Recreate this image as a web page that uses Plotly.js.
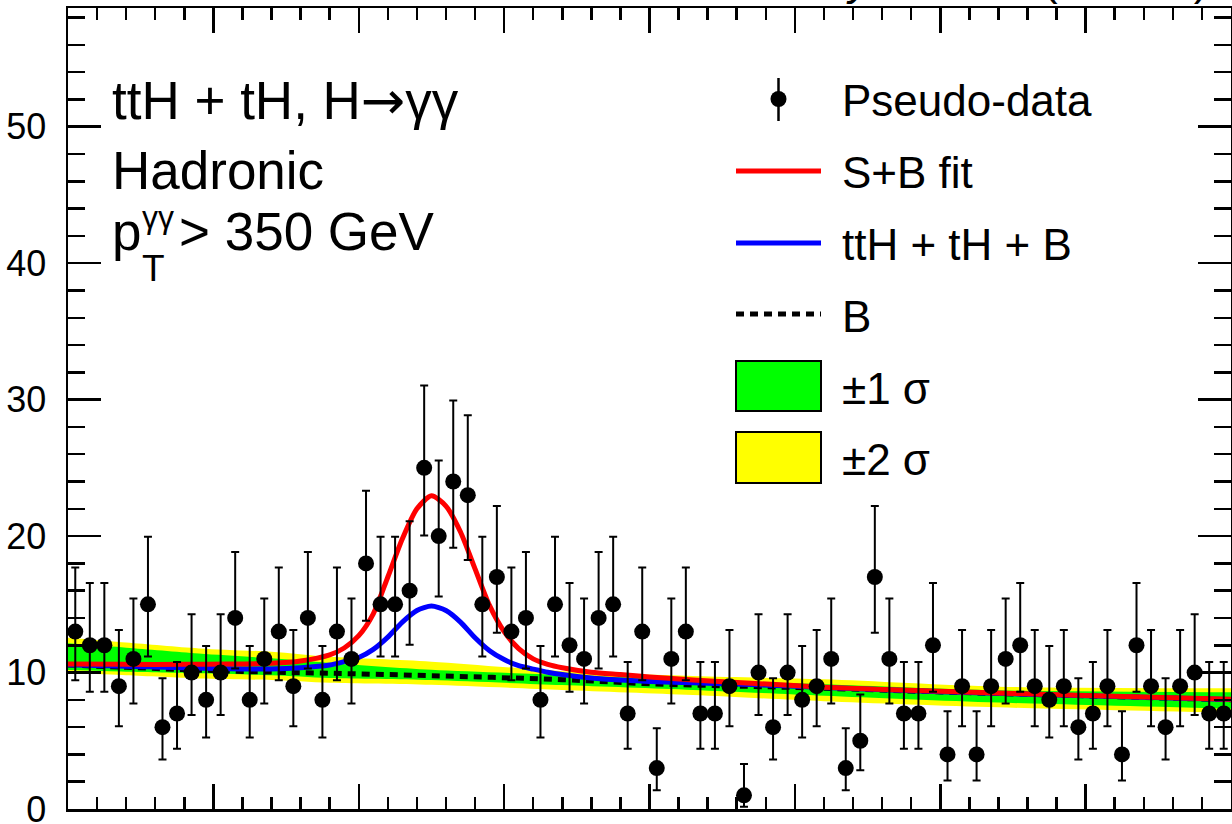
<!DOCTYPE html>
<html>
<head>
<meta charset="utf-8">
<script src="https://cdn.plot.ly/plotly-3.0.1.min.js"></script>
<style>
  html, body { margin: 0; padding: 0; background: #ffffff; }
  #chart { width: 1232px; height: 824px; }
</style>
</head>
<body>
<div id="chart"></div>
<script>
// ---------------- data ----------------
// diphoton mass bin centres (GeV), 1 GeV bins 100-180
const massBins = [100.5,101.5,102.5,103.5,104.5,105.5,106.5,107.5,108.5,109.5,
  110.5,111.5,112.5,113.5,114.5,115.5,116.5,117.5,118.5,119.5,
  120.5,121.5,122.5,123.5,124.5,125.5,126.5,127.5,128.5,129.5,
  130.5,131.5,132.5,133.5,134.5,135.5,136.5,137.5,138.5,139.5,
  140.5,141.5,142.5,143.5,144.5,145.5,146.5,147.5,148.5,149.5,
  150.5,151.5,152.5,153.5,154.5,155.5,156.5,157.5,158.5,159.5,
  160.5,161.5,162.5,163.5,164.5,165.5,166.5,167.5,168.5,169.5,
  170.5,171.5,172.5,173.5,174.5,175.5,176.5,177.5,178.5,179.5];
// pseudo-data event counts
const pseudoData = [13,12,12,9,11,15,6,7,10,8,10,14,8,11,13,9,14,8,13,11,
  18,15,15,16,25,20,24,23,15,17,13,14,8,15,12,11,14,15,7,13,
  3,11,13,7,7,9,1,10,6,10,8,9,11,3,5,17,11,7,7,12,
  4,9,4,9,11,12,9,8,9,6,7,9,4,12,9,6,9,10,7,7];
// Poisson (68%) interval ends, indexed by count
const poissonLow  = [0,0.173,0.708,1.367,2.086,2.840,3.620,4.419,5.232,6.057,6.891,7.734,8.585,9.441,10.30,11.17,12.04,12.92,13.80,14.68,15.57,16.45,17.35,18.24,19.14,20.04];
const poissonHigh = [1.841,3.300,4.638,5.918,7.163,8.382,9.584,10.77,11.95,13.11,14.27,15.42,16.56,17.70,18.83,19.96,21.08,22.20,23.32,24.43,25.54,26.65,27.75,28.85,29.94,31.04];

// fitted curves
const curveMass = [100,104,108,111,114,116,118,119,120,121,122,123,124,125,126,127,128,129,130,131,132,133,134,136,138,140,143,147,152,160,170,180];
const sbFit     = [10.62,10.6,10.6,10.62,10.68,10.85,11.3,11.8,12.7,14.3,17.0,19.8,22.0,22.95,22.2,20.3,17.6,14.9,13.0,11.75,11.0,10.6,10.35,10.02,9.85,9.68,9.45,9.22,8.93,8.62,8.32,8.05];
const tthFit    = [10.58,10.46,10.35,10.28,10.26,10.35,10.55,10.8,11.1,11.7,12.6,13.7,14.55,14.87,14.55,13.7,12.55,11.6,10.95,10.5,10.25,10.02,9.85,9.6,9.45,9.35,9.25,9.12,8.9,8.59,8.3,8.02];
const bkgMass   = [100,104,108,112,118,125,134,140,147,152,160,170,180];
const bkgFit    = [10.55,10.38,10.22,10.08,9.95,9.77,9.48,9.18,8.98,8.85,8.58,8.29,8.0];

// uncertainty bands
const bandMass  = [100,104,109,114,118,125,134,143,152,164,180];
const band2Low  = [9.94,9.8,9.57,9.45,9.25,9.1,8.72,8.35,7.9,7.45,7.05];
const band2High = [12.55,12.2,11.77,11.52,11.15,10.8,10.1,9.75,9.5,8.96,8.84];
const band1Low  = [10.18,10.06,9.94,9.8,9.6,9.45,9.08,8.72,8.3,7.8,7.35];
const band1High = [12.14,11.82,11.4,11.04,10.7,10.2,9.82,9.45,9.15,8.7,8.55];

// text
const legendLabels = ['Pseudo-data','S+B fit','ttH + tH + B','B','±1 σ','±2 σ'];
const infoLine1 = 'ttH + tH, H<span style="font-family:DejaVu Sans">→</span>γγ';
const infoLine2 = 'Hadronic';
const infoLine3 = {base: 'p', sup: 'γγ', sub: 'T', rest: '> 350 GeV'};

// ---------------- derived error bars ----------------
const errPlus  = pseudoData.map(n => poissonHigh[n] - n);
const errMinus = pseudoData.map(n => n - poissonLow[n]);

// ---------------- layout helpers ----------------
const W = 1232, H = 824;
const PL = 68, PR = 1231, PT = 8, PB = 809;
const xp = px => (px - PL) / (PR - PL);
const yp = py => (PB - py) / (PB - PT);
const FONT = 'Liberation Sans, Arial, Helvetica, sans-serif';

const bandLine = {width: 0, shape: 'spline', smoothing: 0.8};
const traces = [
  {x: bandMass, y: band2Low, mode: 'lines', line: bandLine, fill: 'none', hoverinfo: 'skip', showlegend: false},
  {x: bandMass, y: band2High, mode: 'lines', line: bandLine, fill: 'tonexty', fillcolor: '#ffff00', hoverinfo: 'skip', showlegend: false},
  {x: bandMass, y: band1Low, mode: 'lines', line: bandLine, fill: 'none', hoverinfo: 'skip', showlegend: false},
  {x: bandMass, y: band1High, mode: 'lines', line: bandLine, fill: 'tonexty', fillcolor: '#00ff00', hoverinfo: 'skip', showlegend: false},
  {x: bkgMass, y: bkgFit, mode: 'lines', line: {color: '#000000', width: 5, dash: '8px,6px', shape: 'spline'}, showlegend: false},
  {x: curveMass, y: tthFit, mode: 'lines', line: {color: '#0000ff', width: 5, shape: 'spline', smoothing: 0.7}, showlegend: false},
  {x: curveMass, y: sbFit, mode: 'lines', line: {color: '#ff0000', width: 5, shape: 'spline', smoothing: 0.7}, showlegend: false},
  {x: massBins, y: pseudoData, mode: 'markers', cliponaxis: false,
   marker: {color: '#000000', size: 16, symbol: 'circle'},
   error_y: {type: 'data', symmetric: false, array: errPlus, arrayminus: errMinus, color: '#000000', thickness: 2, width: 4},
   showlegend: false}
];

// legend (ROOT style) drawn with shapes + text
const legX0 = 736, legX1 = 821, legTextX = 840;
const legRows = [99, 171, 243, 314, 386, 457];
const shapes = [
  {type: 'line', xref: 'paper', yref: 'paper', x0: xp(778.5), x1: xp(778.5), y0: yp(78), y1: yp(121), line: {color: '#000', width: 2.5}},
  {type: 'circle', xref: 'paper', yref: 'paper', x0: xp(770.5), x1: xp(786.5), y0: yp(91), y1: yp(107), fillcolor: '#000', line: {color: '#000', width: 0}},
  {type: 'line', xref: 'paper', yref: 'paper', x0: xp(legX0), x1: xp(legX1), y0: yp(legRows[1]), y1: yp(legRows[1]), line: {color: '#ff0000', width: 5}},
  {type: 'line', xref: 'paper', yref: 'paper', x0: xp(legX0), x1: xp(legX1), y0: yp(legRows[2]), y1: yp(legRows[2]), line: {color: '#0000ff', width: 5}},
  {type: 'line', xref: 'paper', yref: 'paper', x0: xp(legX0), x1: xp(legX1), y0: yp(legRows[3]), y1: yp(legRows[3]), line: {color: '#000000', width: 5, dash: '8px,6px'}},
  {type: 'rect', xref: 'paper', yref: 'paper', x0: xp(legX0), x1: xp(legX1), y0: yp(411), y1: yp(361), fillcolor: '#00ff00', line: {color: '#000', width: 2}},
  {type: 'rect', xref: 'paper', yref: 'paper', x0: xp(legX0), x1: xp(legX1), y0: yp(483), y1: yp(432), fillcolor: '#ffff00', line: {color: '#000', width: 2}}
];

const annotations = [];
legendLabels.forEach((t, i) => {
  annotations.push({xref: 'paper', yref: 'paper', x: xp(legTextX), y: yp(legRows[i] + 2), xanchor: 'left', yanchor: 'middle',
    text: t, showarrow: false, font: {family: FONT, size: 44, color: '#000'}});
});
const infoFont = {family: FONT, size: 53, color: '#000'};
annotations.push(
  {xref: 'paper', yref: 'paper', x: xp(110), y: yp(101), xanchor: 'left', yanchor: 'middle', text: infoLine1, showarrow: false, font: infoFont},
  {xref: 'paper', yref: 'paper', x: xp(110), y: yp(170), xanchor: 'left', yanchor: 'middle', text: infoLine2, showarrow: false, font: infoFont},
  {xref: 'paper', yref: 'paper', x: xp(110), y: yp(231), xanchor: 'left', yanchor: 'middle', text: infoLine3.base, showarrow: false, font: infoFont},
  {xref: 'paper', yref: 'paper', x: xp(140), y: yp(217), xanchor: 'left', yanchor: 'middle', text: infoLine3.sup, showarrow: false, font: {family: FONT, size: 32, color: '#000'}},
  {xref: 'paper', yref: 'paper', x: xp(140), y: yp(268), xanchor: 'left', yanchor: 'middle', text: infoLine3.sub, showarrow: false, font: {family: FONT, size: 37, color: '#000'}},
  {xref: 'paper', yref: 'paper', x: xp(177), y: yp(231), xanchor: 'left', yanchor: 'middle', text: infoLine3.rest, showarrow: false, font: infoFont},
  // header text above the frame (only descenders fall inside the picture)
  {xref: 'paper', yref: 'paper', x: xp(1210), y: 1, yshift: 2, xanchor: 'right', yanchor: 'bottom', text: '138 fb<sup>-1</sup> (13 TeV)', showarrow: false, font: {family: FONT, size: 44, color: '#000'}},
  {xref: 'paper', yref: 'paper', x: xp(876), y: 1, yshift: 2, xanchor: 'right', yanchor: 'bottom', text: '<i>Preliminary</i>', showarrow: false, font: {family: FONT, size: 44, color: '#000'}}
);

const axisCommon = {
  showline: true, linecolor: '#000', linewidth: 2.5, mirror: 'allticks',
  ticks: 'inside', tickcolor: '#000', tickwidth: 2.5,
  showgrid: false, zeroline: false, fixedrange: true
};

const layout = {
  width: W, height: H,
  margin: {l: PL, r: W - PR, t: PT, b: H - PB, pad: 0},
  paper_bgcolor: '#ffffff', plot_bgcolor: '#ffffff',
  showlegend: false,
  font: {family: FONT, color: '#000'},
  xaxis: Object.assign({}, axisCommon, {
    range: [100, 180], tick0: 100, dtick: 10, ticklen: 25, showticklabels: false,
    minor: {ticks: 'inside', ticklen: 12, tickwidth: 2.5, tickcolor: '#000', dtick: 2, tick0: 100, showgrid: false}
  }),
  yaxis: Object.assign({}, axisCommon, {
    range: [0, 58.7], tick0: 0, dtick: 10, ticklen: 33,
    tickfont: {family: FONT, size: 36, color: '#000'}, ticklabelstandoff: 12,
    ticklabeloverflow: 'allow',
    minor: {ticks: 'inside', ticklen: 17, tickwidth: 2.5, tickcolor: '#000', dtick: 2, tick0: 0, showgrid: false}
  }),
  shapes: shapes,
  annotations: annotations
};

Plotly.newPlot('chart', traces, layout, {staticPlot: true, displayModeBar: false});
</script>
</body>
</html>
